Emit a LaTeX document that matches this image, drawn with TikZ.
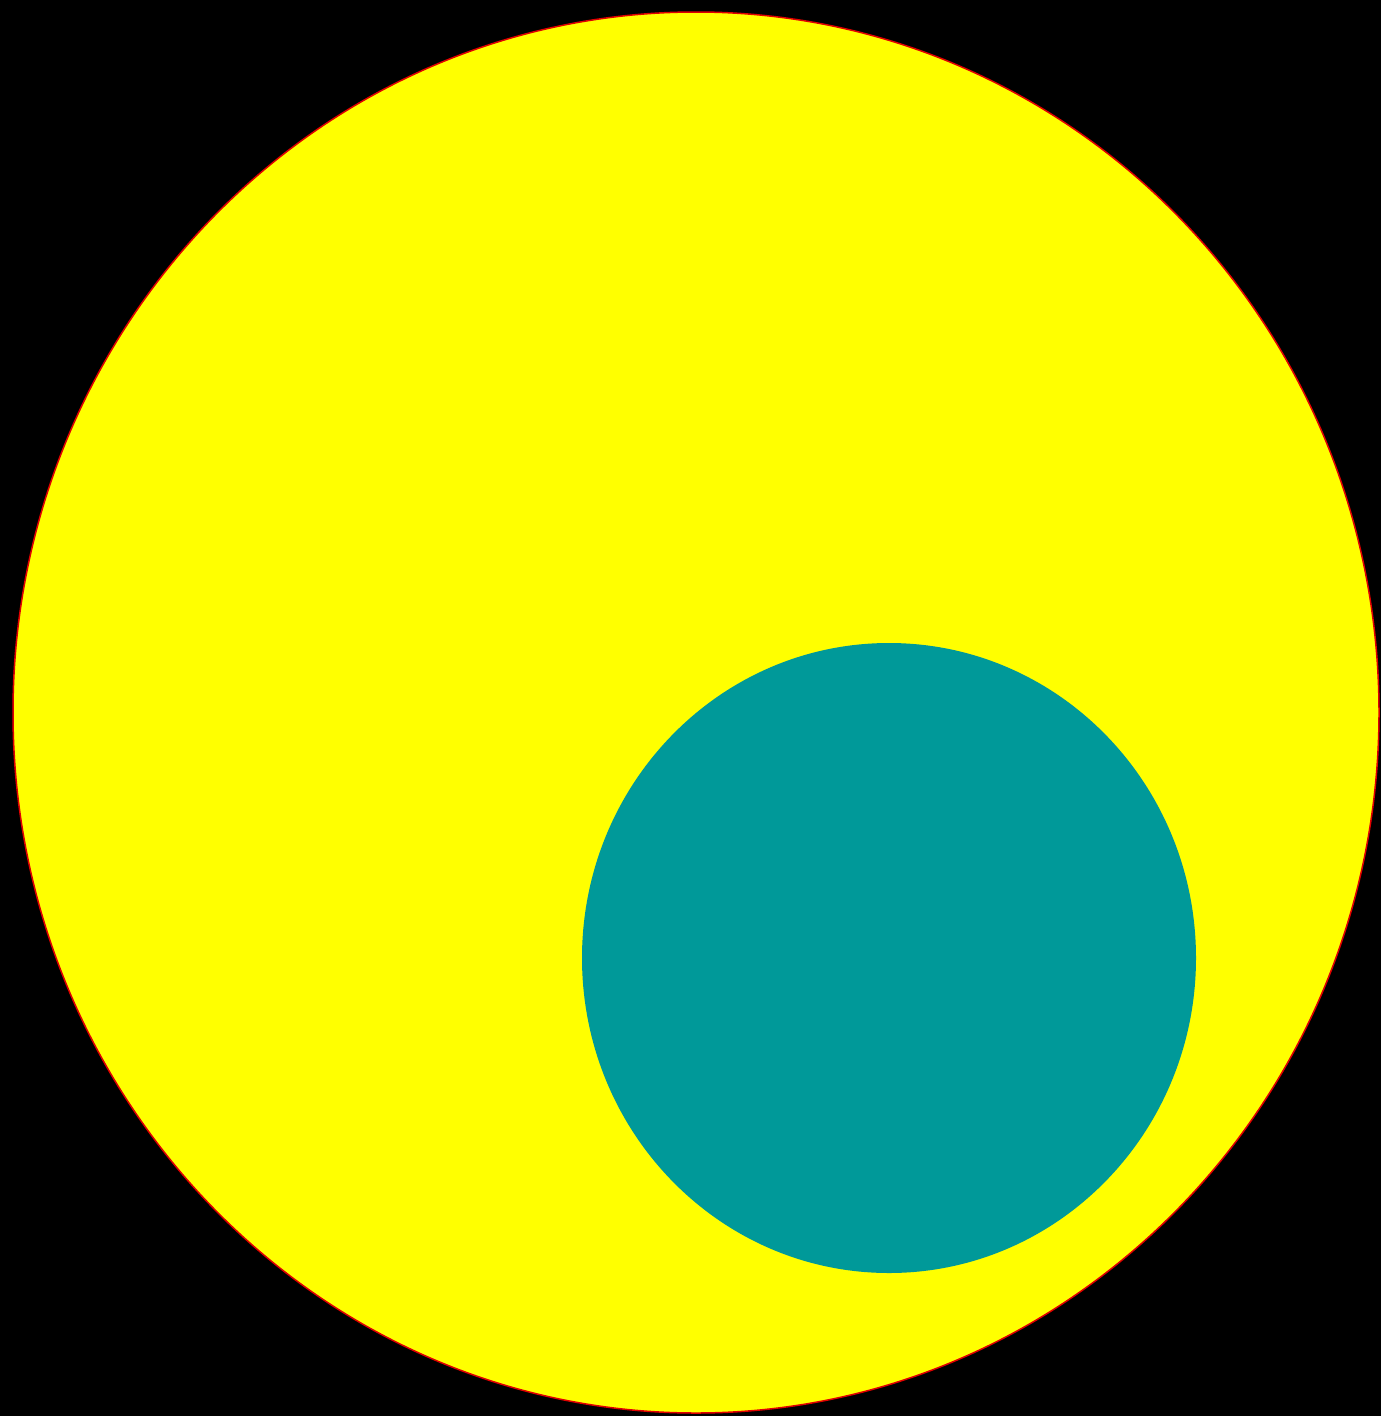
\documentclass[tikz,border=0pt]{standalone}
\usetikzlibrary{shapes.geometric}
\definecolor{teal0}{HTML}{009999}
\definecolor{yel0}{HTML}{FFFF00}
\definecolor{red0}{HTML}{E00000}
\begin{document}
\begin{tikzpicture}[x=1pt,y=-1pt]
\fill[black] (0,0) rectangle (1381,1416);
\useasboundingbox (0,0) rectangle (1381,1416);
\node[draw=red0, fill=yel0, line width=1.5pt, ellipse, minimum width=1366pt, minimum height=1401pt, inner sep=0pt, outer sep=0pt] (big) at (696,712.5) {};
\node[fill=teal0, ellipse, minimum width=614pt, minimum height=630pt, inner sep=0pt, outer sep=0pt] (small) at (889,958) {};
\end{tikzpicture}
\end{document}
